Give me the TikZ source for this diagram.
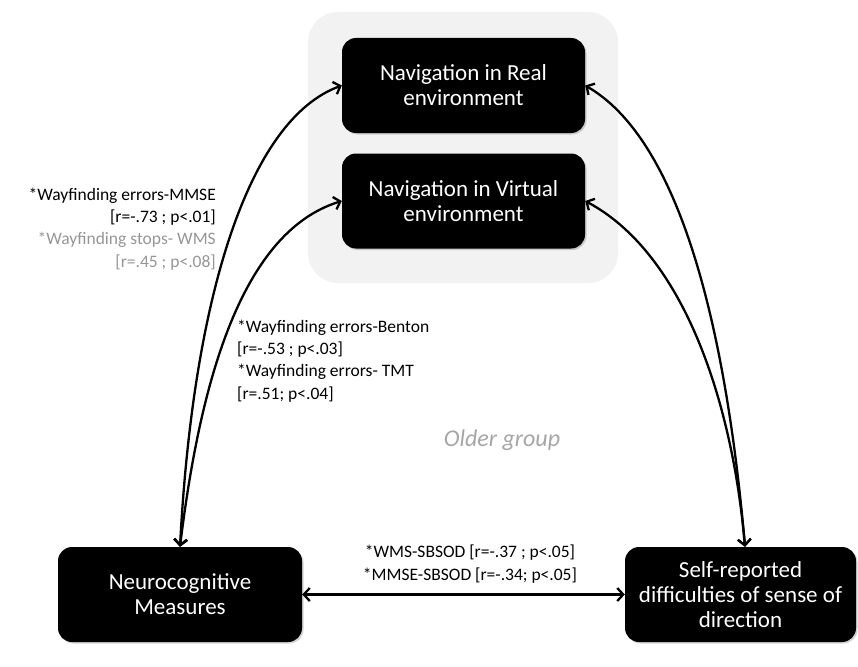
\documentclass[tikz,border=0pt]{standalone}
\usepackage{fontspec}
\setmainfont{Carlito}
\usetikzlibrary{arrows.meta,shadows}
\definecolor{panelgray}{RGB}{242,242,242}
\definecolor{weakgray}{RGB}{150,150,150}
\definecolor{groupgray}{RGB}{166,166,166}
\begin{document}
\begin{tikzpicture}[x=1pt, y=-1pt,
  box/.style={fill=black, text=white, rounded corners=14pt, align=center,
    minimum height=95pt, inner sep=0pt,
    drop shadow={opacity=0.35, shadow xshift=1.5pt, shadow yshift=-1.5pt},
    font=\fontsize{23}{25}\selectfont},
  link/.style={line width=2.3pt, {Straight Barb[length=6pt,width=13pt]}-{Straight Barb[length=6pt,width=13pt]}},
  stat/.style={inner sep=0pt, font=\fontsize{17.5}{22.3}\selectfont}]
\useasboundingbox (0,0) rectangle (858,666);
\fill[panelgray, rounded corners=30pt] (308,12) rectangle (618,283);
\node[box, minimum width=243pt] (real) at (463.5,85.5) {Navigation in Real\\environment};
\node[box, minimum width=243pt] (virtual) at (463.5,201) {Navigation in Virtual\\environment};
\node[box, minimum width=244pt] (neuro) at (180,594.5) {Neurocognitive\\Measures};
\node[box, minimum width=231pt] (self) at (740.5,594.5) {Self-reported\\difficulties of sense of\\direction};
\draw[link] (neuro.north) to[out=87, in=200, out looseness=1.31, in looseness=0.52] (real.west);
\draw[link] (neuro.north) to[out=83, in=197, out looseness=1.0, in looseness=0.74] (virtual.west);
\draw[link] ([xshift=4.5pt]self.north) to[out=95, in=-30, out looseness=1.31, in looseness=0.52] (real.east);
\draw[link] ([xshift=4.5pt]self.north) to[out=95, in=-28, out looseness=1.0, in looseness=0.74] (virtual.east);
\draw[link] (neuro.east) -- (self.west);
\node[stat, align=right, anchor=east] (errmmse) at (216,229)
  {*Wayfinding errors-MMSE\\{}[r=-.73 ; p<.01]\\\textcolor{weakgray}{*Wayfinding stops- WMS}\\\textcolor{weakgray}{[r=.45 ; p<.08]}};
\node[stat, align=left, anchor=west] (errbenton) at (237,361)
  {*Wayfinding errors-Benton\\{}[r=-.53 ; p<.03]\\*Wayfinding errors- TMT\\{}[r=.51; p<.04]};
\node[stat, align=center] (sbsod) at (470,564)
  {*WMS-SBSOD [r=-.37 ; p<.05]\\*MMSE-SBSOD [r=-.34; p<.05]};
\node[text=groupgray, font=\fontsize{24}{28}\selectfont\itshape] (older) at (502,440) {Older group};
\end{tikzpicture}
\end{document}
